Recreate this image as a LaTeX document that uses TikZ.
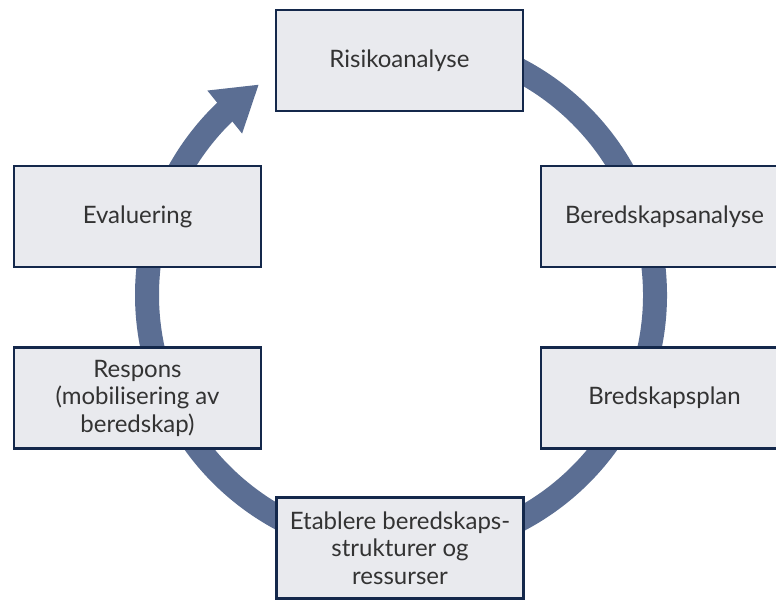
\documentclass[tikz,border=0pt]{standalone}
\usepackage{fontspec}
\setmainfont{Lato}
\usetikzlibrary{arrows.meta, bending}

\definecolor{boxfill}{HTML}{E9EAEE}
\definecolor{boxline}{HTML}{14284B}
\definecolor{ringblue}{HTML}{5B6E93}
\definecolor{textgray}{HTML}{333333}

\begin{document}
\begin{tikzpicture} [x=1pt, y=1pt, align=center,
    stage/.style={rectangle, draw=boxline, line width=2.5pt, fill=boxfill,
        minimum width=247pt, minimum height=101pt, text=textgray,
        font=\fontsize{24}{27.5}\selectfont},
    ring/.style={draw=ringblue, line width=24pt,
        -{Triangle[width=52pt, length=44pt, flex]}}]
\useasboundingbox (0, 0) rectangle (776, 602);

% cycle ring with arrow back to the start
\coordinate (c) at (401, 307);
\draw[ring] ([shift={(95:254)}]c) arc[start angle=95, end angle=-236, radius=254];

\path (399.5, 541.5) node[stage] (risk) {Risikoanalyse}
      (664.5, 385.5) node[stage] (bered) {Beredskapsanalyse}
      (664.5, 204) node[stage] (plan) {Bredskapsplan}
      (400, 54) node[stage] (etab) {Etablere beredskaps-\\strukturer og\\ressurser}
      (137.5, 204) node[stage] (resp) {Respons\\(mobilisering av\\beredskap)}
      (137.5, 385.5) node[stage] (eval) {Evaluering};
\end{tikzpicture}
\end{document}
